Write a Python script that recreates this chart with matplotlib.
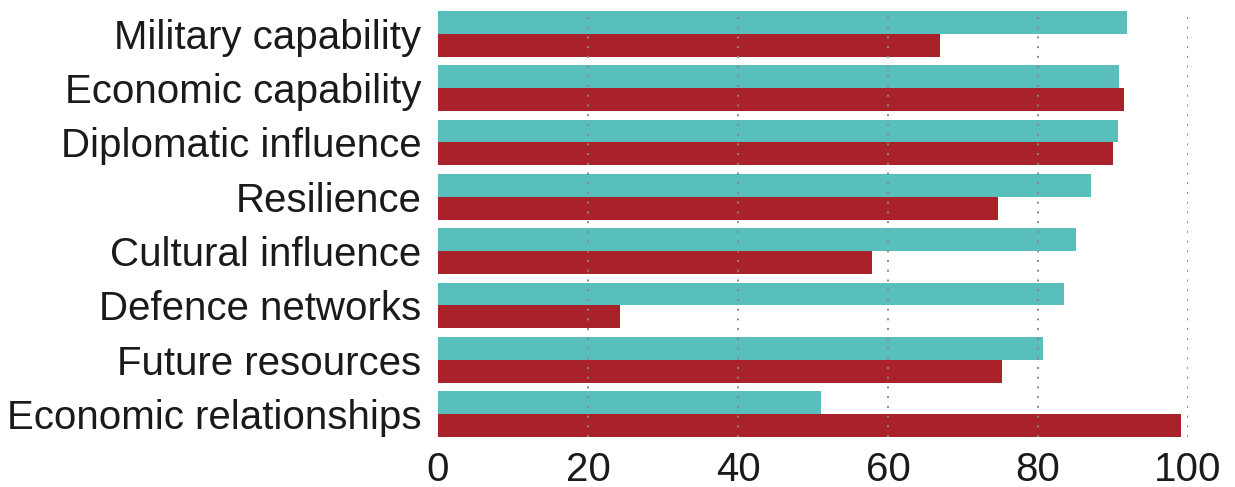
import matplotlib
matplotlib.use("Agg")
import matplotlib.pyplot as plt
import numpy as np

categories = [
    "Military capability",
    "Economic capability",
    "Diplomatic influence",
    "Resilience",
    "Cultural influence",
    "Defence networks",
    "Future resources",
    "Economic relationships",
]
teal_values = [91.9, 90.8, 90.6, 87.0, 85.1, 83.5, 80.6, 51.1]
red_values = [66.9, 91.4, 90.0, 74.6, 57.8, 24.2, 75.2, 99.1]
x_ticks = [0, 20, 40, 60, 80, 100]

TEAL = "#58BFBD"
RED = "#AA2229"
BAR_H = 0.42

plt.rcParams["font.family"] = ["Liberation Sans", "DejaVu Sans"]

fig = plt.figure(figsize=(12.35, 4.87), dpi=100)
ax = fig.add_axes([0.3547, 0.1027, 0.962 - 0.3547, 0.9774 - 0.1027])

y = np.arange(len(categories))[::-1]
ax.barh(y + BAR_H / 2, teal_values, height=BAR_H, color=TEAL, zorder=1)
ax.barh(y - BAR_H / 2, red_values, height=BAR_H, color=RED, zorder=1)

ax.set_xlim(0, 100)
ax.set_ylim(-BAR_H, len(categories) - 1 + BAR_H)
ax.set_xticks(x_ticks)
ax.set_yticks(y)
ax.set_yticklabels(categories)

ax.xaxis.grid(True, linestyle=(0, (1, 4)), color="#888888", linewidth=1.4, zorder=2)
ax.set_axisbelow(False)
ax.xaxis.get_gridlines()[0].set_visible(False)  # no line at 0
for s in ax.spines.values():
    s.set_visible(False)

ax.tick_params(axis="y", length=0, pad=12, labelsize=29, labelcolor="#1a1a1a")
ax.tick_params(axis="x", length=0, pad=10, labelsize=29, labelcolor="#1a1a1a")

fig.savefig("out.png", dpi=100)
